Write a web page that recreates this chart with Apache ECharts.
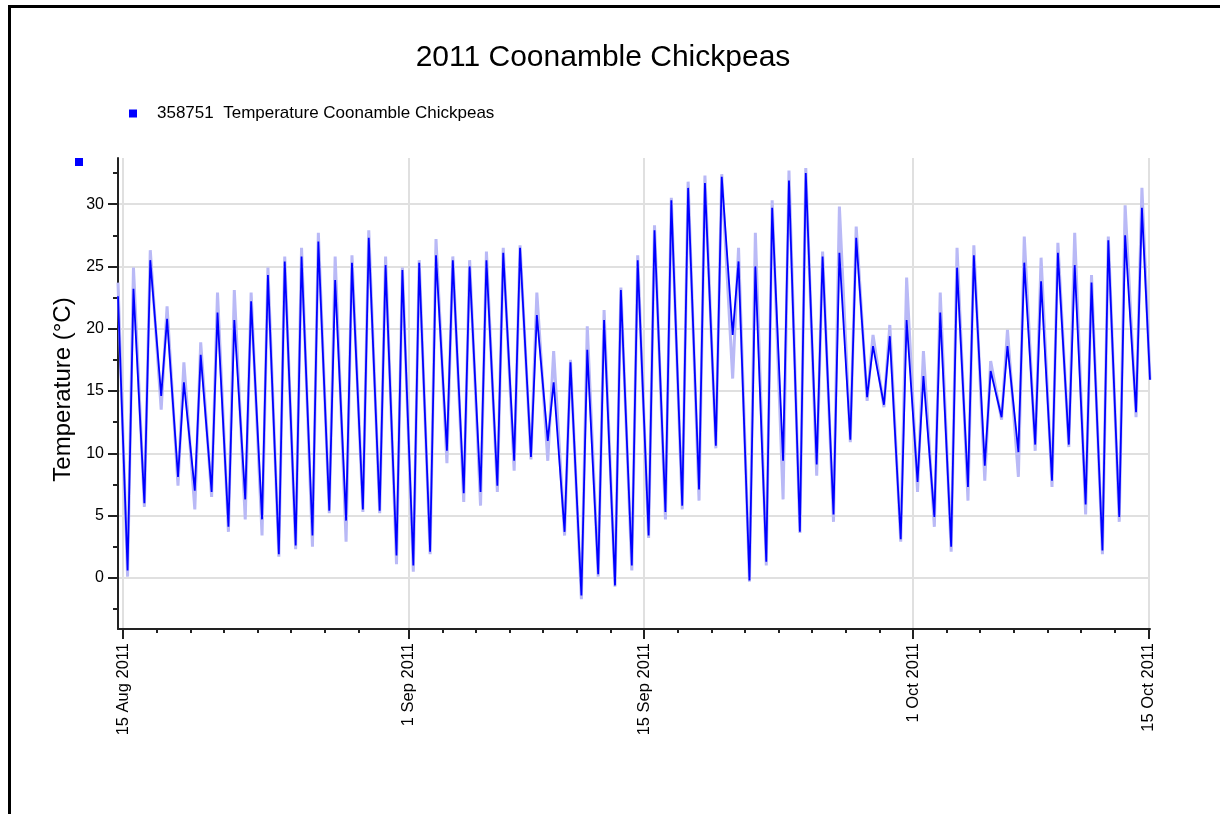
<!DOCTYPE html>
<html>
<head>
<meta charset="utf-8">
<script src="https://cdn.jsdelivr.net/npm/echarts@6/dist/echarts.min.js"></script>
<style>
  html, body { margin: 0; padding: 0; background: #fff; }
  #chart { width: 1220px; height: 814px; }
</style>
</head>
<body>
<div id="chart"></div>
<script>
// days are counted from 15 Aug 2011 00:00
var seriesName = '358751  Temperature Coonamble Chickpeas';
var majorDays = [0, 17, 31, 47, 61];
var majorLabels = ['15 Aug 2011', '1 Sep 2011', '15 Sep 2011', '1 Oct 2011', '15 Oct 2011'];
var minorDays = [2, 4, 6, 8, 10, 12, 14, 19, 21, 23, 25, 27, 29,
                 33, 35, 37, 39, 41, 43, 45, 49, 51, 53, 55, 57, 59];
var yMajor = [0, 5, 10, 15, 20, 25, 30];
var yMinor = [-2.5, 2.5, 7.5, 12.5, 17.5, 22.5, 27.5, 32.5];

// first / last reading (day, temp)
var startPoint = [-0.3, 22.6];
var startLight = 23.7;
var endPoint = [61.1, 15.9];

// morning low and afternoon high of each day, dark line
var dailyLow = [0.6, 6.0, 14.6, 8.1, 7.0, 6.9, 4.1, 6.3, 4.7, 1.9,
                2.6, 3.4, 5.4, 4.6, 5.5, 5.4, 1.8, 1.0, 2.1, 10.2,
                6.8, 6.9, 7.4, 9.4, 9.7, 11.0, 3.7, -1.4, 0.3, -0.6,
                1.0, 3.4, 5.3, 5.8, 7.1, 10.6, 19.5, -0.2, 1.3, 9.4,
                3.7, 9.1, 5.1, 11.1, 14.5, 13.9, 3.1, 7.7, 4.9, 2.5,
                7.3, 9.0, 12.9, 10.1, 10.7, 7.8, 10.7, 5.9, 2.2, 4.9,
                13.3];
var dailyHigh = [23.2, 25.5, 20.8, 15.7, 17.9, 21.3, 20.7, 22.2, 24.3, 25.4,
                 25.8, 27.0, 23.9, 25.3, 27.3, 25.1, 24.7, 25.3, 25.9, 25.5,
                 25.0, 25.5, 26.1, 26.5, 21.1, 15.7, 17.3, 18.3, 20.7, 23.1,
                 25.5, 27.9, 30.3, 31.3, 31.7, 32.2, 25.4, 25.0, 29.7, 31.9,
                 32.5, 25.8, 26.1, 27.3, 18.6, 19.4, 20.7, 16.2, 21.3, 24.9,
                 25.9, 16.6, 18.6, 25.3, 23.8, 26.1, 25.1, 23.7, 27.1, 27.5,
                 29.7];
// extremes of the pale line
var lightLow = [0.1, 5.7, 13.5, 7.4, 5.5, 6.5, 3.7, 4.7, 3.4, 1.7,
                2.3, 2.5, 5.2, 2.9, 5.3, 5.2, 1.1, 0.5, 1.9, 9.2,
                6.1, 5.8, 6.9, 8.6, 9.5, 9.4, 3.4, -1.7, 0.1, -0.7,
                0.6, 3.2, 4.7, 5.5, 6.2, 10.4, 16.0, -0.3, 1.0, 6.3,
                3.6, 8.2, 4.5, 10.9, 14.2, 13.7, 2.9, 6.9, 4.1, 2.1,
                6.2, 7.8, 12.7, 8.1, 10.2, 7.3, 10.5, 5.1, 1.9, 4.5,
                12.9];
var lightHigh = [24.9, 26.3, 21.8, 17.3, 18.9, 22.9, 23.1, 22.9, 24.9, 25.8,
                 26.5, 27.7, 25.8, 25.9, 27.9, 25.8, 24.9, 25.5, 27.2, 25.8,
                 25.5, 26.2, 26.5, 26.7, 22.9, 18.2, 17.5, 20.2, 21.5, 23.3,
                 25.9, 28.3, 30.5, 31.8, 32.3, 32.4, 26.5, 27.7, 30.3, 32.7,
                 32.9, 26.2, 29.8, 28.2, 19.5, 20.3, 24.1, 18.2, 22.9, 26.5,
                 26.7, 17.4, 19.9, 27.4, 25.7, 26.9, 27.7, 24.3, 27.4, 29.9,
                 31.3];

var LOW_AT = 0.27, HIGH_AT = 0.62;

function buildLine(first, lows, highs, last) {
    var pts = [first];
    for (var d = 0; d < lows.length; d++) {
        pts.push([d + LOW_AT, lows[d]]);
        pts.push([d + HIGH_AT, highs[d]]);
    }
    pts.push(last);
    return pts;
}

var darkData = buildLine(startPoint, dailyLow, dailyHigh, endPoint);
var lightData = buildLine([startPoint[0], startLight], lightLow, lightHigh, endPoint);

var FONT = "'Liberation Sans', Arial, sans-serif";
var AXIS_COLOR = '#222';
var GRID_COLOR = '#e0e0e0';
var X_MIN = -0.3, X_MAX = 61.1, Y_MIN = -4.1, Y_MAX = 33.7;

var chart = echarts.init(document.getElementById('chart'), null, {renderer: 'canvas'});

var option = {
    backgroundColor: '#fff',
    animation: false,
    title: {
        text: '2011 Coonamble Chickpeas',
        left: 598, top: 38, textAlign: 'center',
        textStyle: {fontFamily: FONT, fontSize: 30, fontWeight: 'normal', color: '#000'}
    },
    legend: {
        data: [seriesName],
        left: 124, top: 100,
        icon: 'rect', itemWidth: 8, itemHeight: 8,
        textStyle: {fontFamily: FONT, fontSize: 17, color: '#000', padding: [0, 0, 0, 15]}
    },
    grid: {left: 118, right: 70, top: 158, bottom: 185, containLabel: false},
    xAxis: [{
        type: 'value', min: X_MIN, max: X_MAX,
        axisLine: {show: true, onZero: false, lineStyle: {color: AXIS_COLOR, width: 2}},
        axisTick: {show: true, customValues: majorDays, length: 10, lineStyle: {color: AXIS_COLOR, width: 2}},
        axisLabel: {
            customValues: majorDays, rotate: 90, margin: 14,
            fontFamily: FONT, fontSize: 16.5, color: '#000',
            formatter: function (v) { return majorLabels[majorDays.indexOf(Math.round(v))] || ''; }
        },
        splitLine: {show: true, lineStyle: {color: GRID_COLOR, width: 2}}
    }, {
        // minor date ticks, no labels
        type: 'value', min: X_MIN, max: X_MAX, position: 'bottom',
        axisLine: {show: false, onZero: false},
        axisTick: {show: true, customValues: minorDays, length: 4, lineStyle: {color: AXIS_COLOR, width: 2}},
        axisLabel: {show: false},
        splitLine: {show: false}
    }],
    yAxis: [{
        type: 'value', min: Y_MIN, max: Y_MAX,
        name: 'Temperature (°C)', nameLocation: 'middle', nameGap: 34,
        nameTextStyle: {fontFamily: FONT, fontSize: 24, color: '#000', padding: [0, 0, 0, 8]},
        axisLine: {show: true, onZero: false, lineStyle: {color: AXIS_COLOR, width: 2}},
        axisTick: {show: true, customValues: yMajor, length: 10, lineStyle: {color: AXIS_COLOR, width: 2}},
        axisLabel: {customValues: yMajor, margin: 14, fontFamily: FONT, fontSize: 16, color: '#000'},
        splitLine: {show: true, lineStyle: {color: GRID_COLOR, width: 2}}
    }, {
        // minor temperature ticks
        type: 'value', min: Y_MIN, max: Y_MAX, position: 'left',
        axisLine: {show: false, onZero: false},
        axisTick: {show: true, customValues: yMinor, length: 5, lineStyle: {color: AXIS_COLOR, width: 2}},
        axisLabel: {show: false},
        splitLine: {show: false}
    }],
    series: [{
        name: 'pale',
        type: 'line',
        data: lightData,
        showSymbol: false, silent: true,
        lineStyle: {color: '#b9b9f6', width: 3},
        z: 2
    }, {
        name: seriesName,
        type: 'line',
        data: darkData,
        showSymbol: false,
        itemStyle: {color: '#0000ff'},
        lineStyle: {color: '#0000ff', width: 1.8},
        z: 3
    }],
    graphic: [{
        type: 'rect', left: 7, top: 4, z: 100,
        shape: {width: 1300, height: 900},
        style: {fill: 'none', stroke: '#000', lineWidth: 3}
    }, {
        type: 'rect', left: 75, top: 158,
        shape: {width: 8, height: 8},
        style: {fill: '#0000ff'}
    }]
};

chart.setOption(option);
</script>
</body>
</html>
